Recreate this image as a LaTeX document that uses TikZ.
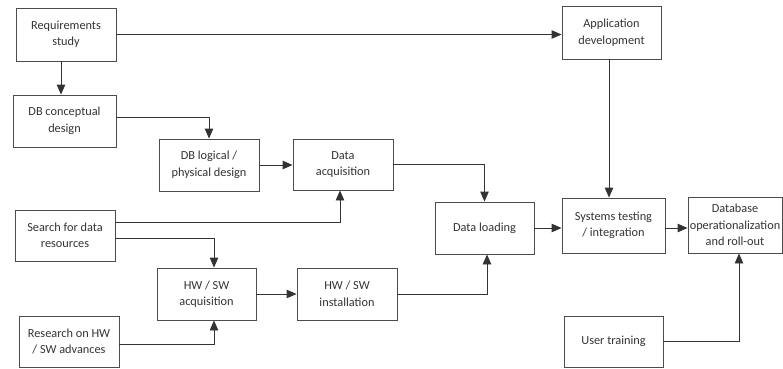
\documentclass[tikz,border=0pt]{standalone}
\usepackage{fontspec}
\setmainfont{Carlito}
\usetikzlibrary{arrows.meta}
\begin{document}
\begin{tikzpicture}[x=1pt,y=-1pt,
  box/.style={draw=black!70, line width=0.9pt, rectangle, inner sep=0pt, align=center,
    font=\fontsize{12.3}{16.5}\selectfont, text=black!80},
  arr/.style={draw=black!80, line width=0.9pt, -{Triangle[length=10pt,width=8.5pt]}}]
\useasboundingbox (0,0) rectangle (783,368);
\node[box, minimum width=100pt, minimum height=53pt] (req) at (66,34.5) {Requirements\\study};
\node[box, minimum width=103pt, minimum height=52pt] (concept) at (64.5,121) {DB conceptual\\design};
\node[box, minimum width=100pt, minimum height=52pt] (logical) at (209,165) {DB logical /\\physical design};
\node[box, minimum width=100pt, minimum height=51pt] (dacq) at (343,164.5) {Data\\acquisition};
\node[box, minimum width=99pt, minimum height=53pt] (app) at (611.5,32.5) {Application\\development};
\node[box, minimum width=100pt, minimum height=51pt] (search) at (65,235.5) {Search for data\\resources};
\node[box, minimum width=99pt, minimum height=52pt] (hwacq) at (206.5,294) {HW / SW\\acquisition};
\node[box, minimum width=100pt, minimum height=52pt] (hwinst) at (347,294) {HW / SW\\installation};
\node[box, minimum width=100pt, minimum height=51pt] (research) at (69,341.5) {Research on HW\\/ SW advances};
\node[box, minimum width=99pt, minimum height=52pt] (load) at (484.5,228) {Data loading};
\node[box, minimum width=103pt, minimum height=55pt] (systest) at (613.5,225.5) {Systems testing\\/ integration};
\node[box, minimum width=94pt, minimum height=56pt] (dbop) at (735,225) {Database\\operationalization\\and roll-out};
\node[box, minimum width=99pt, minimum height=51pt] (training) at (613.5,341.5) {User training};

\draw[arr] (req.east) -- (req.east -| app.west);
\draw[arr] ([xshift=-5pt]req.south) -- ([xshift=-5pt]req.south |- concept.north);
\draw[arr] ([yshift=4pt]concept.east) -| (logical.north);
\draw[arr] (logical.east) -- (logical.east -| dacq.west);
\draw[arr] (dacq.east) -| (load.north);
\draw[arr] ([yshift=13.5pt]search.east) -| ([xshift=-3pt]dacq.south);
\draw[arr] ([yshift=-2.5pt]search.east) -| ([xshift=7.5pt]hwacq.north);
\draw[arr] ([yshift=-2.5pt]research.east) -| ([xshift=7.5pt]hwacq.south);
\draw[arr] (hwacq.east) -- (hwacq.east -| hwinst.west);
\draw[arr] (hwinst.east) -| ([xshift=2.5pt]load.south);
\draw[arr] ([xshift=-2.5pt]app.south) -- ([xshift=-2.5pt]app.south |- systest.north);
\draw[arr] (load.east) -- (load.east -| systest.west);
\draw[arr] ([yshift=-2.5pt]systest.east) -- ([yshift=-2.5pt]systest.east -| dbop.west);
\draw[arr] (training.east) -| ([xshift=4pt]dbop.south);
\end{tikzpicture}
\end{document}
